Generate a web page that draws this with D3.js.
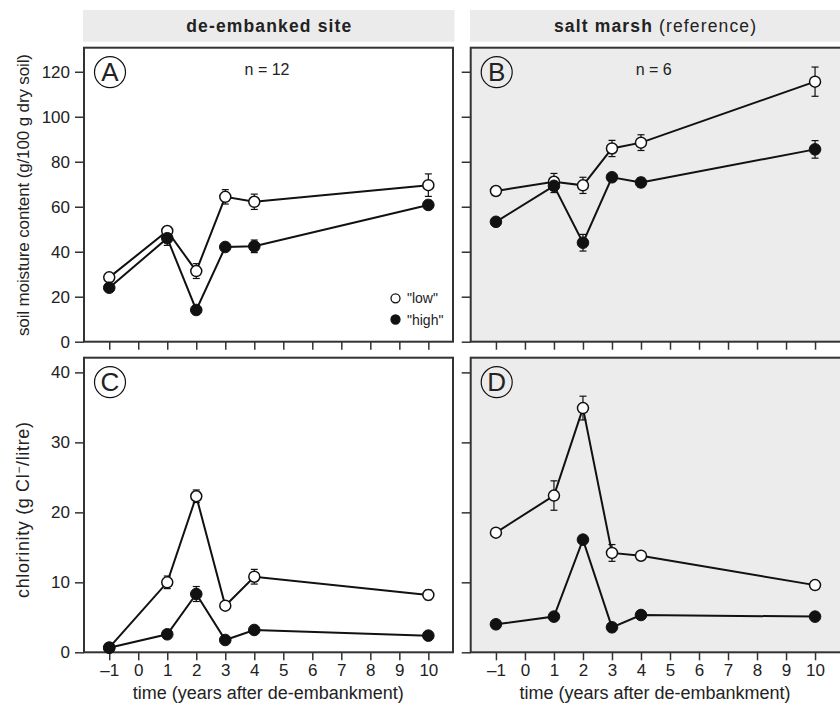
<!DOCTYPE html>
<html>
<head>
<meta charset="utf-8">
<script src="https://cdn.jsdelivr.net/npm/d3@7"></script>
<style>
  body { margin: 0; background: #fff; }
  text { font-family: "Liberation Sans", Arial, sans-serif; fill: #222; }
</style>
</head>
<body>
<svg id="chart" width="840" height="707"></svg>
<script>
// ---- data ----
const years = [-1, 1, 2, 3, 4, 10];
const xTicks = [-1, 0, 1, 2, 3, 4, 5, 6, 7, 8, 9, 10];
const moistureTicks = [0, 20, 40, 60, 80, 100, 120];
const chlorTicks = [0, 10, 20, 30, 40];

// Panel A: de-embanked site, soil moisture
const A_low = [28.6, 49.2, 31.4, 64.4, 62.2, 69.6];
const A_lowErr = [1.2, 1.5, 3.3, 3.2, 3.4, 5.0];
const A_high = [24.0, 46.0, 14.1, 42.1, 42.4, 60.8];
const A_highErr = [1.0, 3.2, 2.0, 1.0, 2.8, 2.0];
// Panel B: salt marsh, soil moisture
const B_low = [67.0, 71.1, 69.5, 85.9, 88.5, 115.6];
const B_lowErr = [1.0, 3.7, 3.6, 3.6, 3.5, 6.5];
const B_high = [53.3, 69.3, 44.0, 73.1, 70.8, 85.5];
const B_highErr = [1.0, 3.0, 3.7, 1.2, 2.0, 3.9];
// Panel C: de-embanked site, chlorinity
const C_low = [0.66, 10.0, 22.3, 6.66, 10.8, 8.2];
const C_lowErr = [0.1, 0.9, 0.9, 0.3, 1.05, 0.7];
const C_high = [0.66, 2.57, 8.33, 1.76, 3.19, 2.38];
const C_highErr = [0.1, 0.2, 1.07, 0.2, 0.2, 0.2];
// Panel D: salt marsh, chlorinity
const D_low = [17.1, 22.4, 34.9, 14.2, 13.8, 9.6];
const D_lowErr = [0.3, 2.1, 1.7, 1.2, 0.3, 0.3];
const D_high = [4.0, 5.1, 16.1, 3.57, 5.33, 5.1];
const D_highErr = [0.2, 0.2, 0.3, 0.2, 0.2, 0.2];

const svg = d3.select("#chart");
const ink = "#333";

const colX = [84, 470.7];
const panelW = 369;
const rows = [
  { y0: 47.7, h: 294, domain: [0, 130.7], ticks: moistureTicks },
  { y0: 357.7, h: 294.6, domain: [0, 42.1], ticks: chlorTicks }
];

const x = d3.scaleLinear().domain([-1.87, 10.85]).range([0, panelW]);

// header strips
const headers = [
  { x0: 83, x1: 454.5, bold: "de-embanked site", normal: "", len: 165 },
  { x0: 470, x1: 840, bold: "salt marsh", normal: " (reference)", len: 202 }
];
headers.forEach(h => {
  svg.append("rect").attr("x", h.x0).attr("y", 10).attr("width", h.x1 - h.x0).attr("height", 31.7).attr("fill", "#ebebeb");
  const t = svg.append("text").attr("x", (h.x0 + h.x1) / 2).attr("y", 32).attr("text-anchor", "middle")
    .style("font-size", "17.5px").attr("textLength", h.len).attr("lengthAdjust", "spacing");
  t.append("tspan").attr("font-weight", "bold").text(h.bold);
  if (h.normal) t.append("tspan").text(h.normal);
});

const panels = [
  { col: 0, row: 0, label: "A", n: "n = 12", low: A_low, lowErr: A_lowErr, high: A_high, highErr: A_highErr },
  { col: 1, row: 0, label: "B", n: "n = 6", low: B_low, lowErr: B_lowErr, high: B_high, highErr: B_highErr },
  { col: 0, row: 1, label: "C", n: null, low: C_low, lowErr: C_lowErr, high: C_high, highErr: C_highErr },
  { col: 1, row: 1, label: "D", n: null, low: D_low, lowErr: D_lowErr, high: D_high, highErr: D_highErr }
];

panels.forEach(p => {
  const r = rows[p.row];
  const y = d3.scaleLinear().domain(r.domain).range([r.h, 0]);
  const g = svg.append("g").attr("transform", `translate(${colX[p.col]},${r.y0})`);
  const w = p.col === 1 ? panelW + 4 : panelW;

  g.append("rect").attr("width", w).attr("height", r.h)
    .attr("fill", p.col === 1 ? "#ebeceb" : "#fff");

  // y axis
  const ya = g.append("g").call(d3.axisLeft(y).tickValues(r.ticks).tickSize(9).tickPadding(5)
      .tickFormat(p.col === 0 ? d3.format("d") : ""));
  ya.select(".domain").remove();
  ya.selectAll("line").attr("stroke", ink).attr("stroke-width", 1.5);
  ya.selectAll("text").style("font-size", "17px").attr("fill", "#222");

  // x axis
  const xa = g.append("g").attr("transform", `translate(0,${r.h})`)
    .call(d3.axisBottom(x).tickValues(xTicks).tickSize(8).tickPadding(4)
      .tickFormat(p.row === 1 ? (d => d < 0 ? "\u2013" + Math.abs(d) : d) : ""));
  xa.select(".domain").remove();
  xa.selectAll("line").attr("stroke", ink).attr("stroke-width", 1.5);
  xa.selectAll("text").style("font-size", "17px").attr("fill", "#222");

  // frame
  g.append("rect").attr("width", w).attr("height", r.h)
    .attr("fill", "none").attr("stroke", ink).attr("stroke-width", 2);

  const line = d3.line().x((d, i) => x(years[i])).y(d => y(d));
  [p.low, p.high].forEach(s => {
    g.append("path").datum(s).attr("d", line).attr("fill", "none")
      .attr("stroke", "#111").attr("stroke-width", 2);
  });

  // error bars
  const drawErr = (vals, errs) => {
    vals.forEach((v, i) => {
      const cx = x(years[i]);
      const y1 = y(v + errs[i]), y2 = y(v - errs[i]);
      g.append("line").attr("x1", cx).attr("x2", cx).attr("y1", y1).attr("y2", y2)
        .attr("stroke", "#111").attr("stroke-width", 1.2);
      [y1, y2].forEach(yy => g.append("line").attr("x1", cx - 3.5).attr("x2", cx + 3.5)
        .attr("y1", yy).attr("y2", yy).attr("stroke", "#111").attr("stroke-width", 1.2));
    });
  };
  drawErr(p.low, p.lowErr);
  drawErr(p.high, p.highErr);

  g.selectAll(".low").data(p.low).enter().append("circle")
    .attr("cx", (d, i) => x(years[i])).attr("cy", d => y(d)).attr("r", 5.5)
    .attr("fill", "#fff").attr("stroke", "#111").attr("stroke-width", 1.5);
  g.selectAll(".high").data(p.high).enter().append("circle")
    .attr("cx", (d, i) => x(years[i])).attr("cy", d => y(d)).attr("r", 5.8)
    .attr("fill", "#111").attr("stroke", "#111").attr("stroke-width", 1);

  // circled panel letter
  g.append("circle").attr("cx", 26).attr("cy", 24.5).attr("r", 15.5)
    .attr("fill", "none").attr("stroke", "#111").attr("stroke-width", 1.2);
  g.append("text").attr("x", 26).attr("y", 33.5).attr("text-anchor", "middle")
    .style("font-size", "26px").attr("fill", "#111").text(p.label);

  if (p.n) {
    g.append("text").attr("x", 183).attr("y", 27).attr("text-anchor", "middle")
      .style("font-size", "16px").text(p.n);
  }

  if (p.label === "A") {
    const lg = [{ t: '"low"', fill: "#fff", y: 298.3 }, { t: '"high"', fill: "#111", y: 319.5 }];
    lg.forEach(l => {
      svg.append("circle").attr("cx", 395.5).attr("cy", l.y).attr("r", 4.5)
        .attr("fill", l.fill).attr("stroke", "#111").attr("stroke-width", 1.3);
      svg.append("text").attr("x", 407).attr("y", l.y + 5).style("font-size", "14px").text(l.t);
    });
  }
});

// axis titles
svg.append("text").attr("transform", `translate(29,195) rotate(-90)`)
  .attr("text-anchor", "middle").style("font-size", "17px")
  .attr("textLength", 282).attr("lengthAdjust", "spacing")
  .text("soil moisture content (g/100 g dry soil)");
const ct = svg.append("text").attr("transform", `translate(29,510) rotate(-90)`)
  .attr("text-anchor", "middle").style("font-size", "18px")
  .attr("textLength", 176).attr("lengthAdjust", "spacing");
ct.append("tspan").text("chlorinity (g Cl");
ct.append("tspan").attr("dy", -6).style("font-size", "12px").text("\u2212");
ct.append("tspan").attr("dy", 6).text("/litre)");

[0, 1].forEach(c => {
  svg.append("text").attr("x", colX[c] + x(4.5) - 0.5).attr("y", 699)
    .attr("text-anchor", "middle").style("font-size", "18px")
    .text("time (years after de-embankment)");
});
</script>
</body>
</html>
